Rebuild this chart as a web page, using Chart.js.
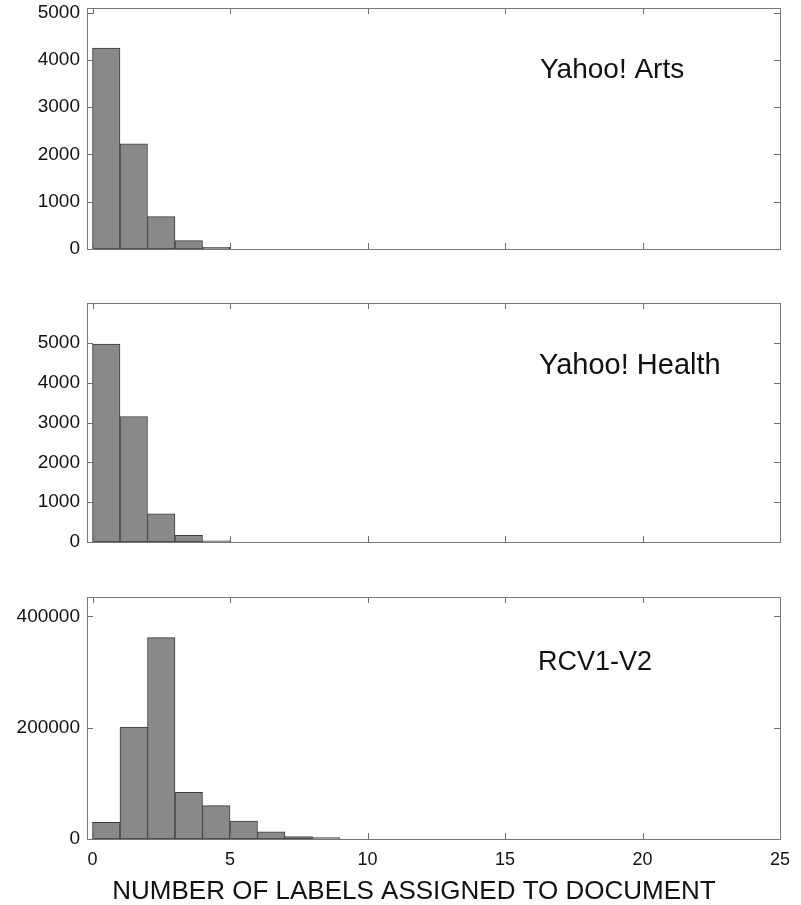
<!DOCTYPE html>
<html>
<head>
<meta charset="utf-8">
<script src="https://cdn.jsdelivr.net/npm/chart.js@4.4.1/dist/chart.umd.min.js"></script>
<style>
  html, body { margin: 0; padding: 0; background: #fff; }
  body { width: 801px; height: 905px; position: relative; overflow: hidden; }
  canvas { position: absolute; left: 0; }
</style>
</head>
<body>
<canvas id="c1" style="top:0px"></canvas>
<canvas id="c2" style="top:290px"></canvas>
<canvas id="c3" style="top:590px"></canvas>
<script>
// ---- data ----
const binEdges = [0, 1, 2, 3, 4, 5, 6, 7, 8];           // left edge of each 1-label-wide bin
const artsCounts = [4250, 2225, 684, 176, 35];
const healthCounts = [4970, 3150, 710, 168, 28];
const rcvCounts = [30000, 201000, 362000, 84000, 60000, 32000, 13000, 4500, 2500];
const xTicks = [0, 5, 10, 15, 20, 25];
const artsYTicks = [0, 1000, 2000, 3000, 4000, 5000];
const healthYTicks = [0, 1000, 2000, 3000, 4000, 5000];
const rcvYTicks = [0, 200000, 400000];
const panelNames = ['Yahoo! Arts', 'Yahoo! Health', 'RCV1-V2'];
const xTitle = 'NUMBER OF LABELS ASSIGNED TO DOCUMENT';

const FONT = "'Liberation Sans', Arial, sans-serif";

function toPoints(counts) {
  return counts.map((v, i) => ({ x: binEdges[i] + 0.5, y: v }));
}

const framePlugin = {
  id: 'frame',
  afterDatasetsDraw(chart, args, opts) {
    const { ctx, chartArea: a, scales } = chart;
    const tl = 6;
    ctx.save();
    ctx.strokeStyle = '#6e6e6e';
    ctx.lineWidth = 1;
    ctx.beginPath();
    scales.x.ticks.forEach(t => {
      const px = Math.round(scales.x.getPixelForValue(t.value)) + 0.5;
      ctx.moveTo(px, a.bottom); ctx.lineTo(px, a.bottom - tl);
      ctx.moveTo(px, a.top); ctx.lineTo(px, a.top + tl);
    });
    scales.y.ticks.forEach(t => {
      const py = Math.round(scales.y.getPixelForValue(t.value)) + 0.5;
      ctx.moveTo(a.left, py); ctx.lineTo(a.left + tl, py);
      ctx.moveTo(a.right, py); ctx.lineTo(a.right - tl, py);
    });
    ctx.stroke();
    ctx.strokeStyle = '#777';
    ctx.strokeRect(Math.round(a.left) + 0.5, Math.round(a.top) + 0.5,
                   Math.round(a.right - a.left), Math.round(a.bottom - a.top));
    // panel name
    ctx.fillStyle = '#111';
    ctx.font = opts.nameSize + 'px ' + FONT;
    ctx.textBaseline = 'alphabetic';
    ctx.textAlign = 'left';
    ctx.fillText(opts.name, a.left + opts.nameDx, a.top + opts.nameDy);
    if (opts.xTitle) {
      ctx.font = '26px ' + FONT;
      ctx.textAlign = 'center';
      ctx.fillText(opts.xTitle, opts.xTitleX, a.bottom + opts.xTitleDy);
    }
    ctx.restore();
  }
};

function makeChart(id, h, counts, yMax, yTicks, pad, showX, nameOpts) {
  const cv = document.getElementById(id);
  cv.width = 801; cv.height = h;
  cv.style.width = '801px'; cv.style.height = h + 'px';
  return new Chart(cv, {
    type: 'bar',
    data: {
      datasets: [{
        data: toPoints(counts),
        backgroundColor: '#898989',
        borderColor: '#3c3c3c',
        borderWidth: 1,
        borderSkipped: false,
        barPercentage: 1,
        categoryPercentage: 1
      }]
    },
    options: {
      responsive: false,
      animation: false,
      devicePixelRatio: 1,
      layout: { padding: pad },
      plugins: {
        legend: { display: false },
        tooltip: { enabled: false },
        frame: nameOpts
      },
      scales: {
        x: {
          type: 'linear',
          offset: false,
          min: -0.2,
          max: 25,
          grid: { display: false, drawTicks: false, offset: false },
          border: { display: false },
          ticks: {
            display: showX,
            padding: 10,
            color: '#111',
            font: { family: FONT, size: 18 },
            maxRotation: 0,
            callback: v => String(v)
          },
          afterBuildTicks: s => { s.ticks = xTicks.map(v => ({ value: v })); },
          afterFit: s => { s.height = showX ? 66 : 0; s.paddingLeft = 0; s.paddingRight = 0; }
        },
        y: {
          type: 'linear',
          min: 0,
          max: yMax,
          grid: { display: false, drawTicks: false },
          border: { display: false },
          ticks: {
            padding: 7,
            color: '#111',
            font: { family: FONT, size: 19 },
            callback: v => String(v)
          },
          afterBuildTicks: s => { s.ticks = yTicks.map(v => ({ value: v })); },
          afterFit: s => { s.width = 87; s.paddingTop = 0; s.paddingBottom = 0; }
        }
      }
    },
    plugins: [framePlugin]
  });
}

makeChart('c1', 265, artsCounts, 5100, artsYTicks,
  { top: 8, bottom: 16, left: 0, right: 21 }, false,
  { name: panelNames[0], nameSize: 28, nameDx: 453, nameDy: 70 });
makeChart('c2', 265, healthCounts, 6000, healthYTicks,
  { top: 13, bottom: 13, left: 0, right: 21 }, false,
  { name: panelNames[1], nameSize: 29, nameDx: 452, nameDy: 71 });
makeChart('c3', 315, rcvCounts, 435000, rcvYTicks,
  { top: 7, bottom: 0, left: 0, right: 21 }, true,
  { name: panelNames[2], nameSize: 27, nameDx: 451, nameDy: 73, xTitle: xTitle, xTitleX: 414, xTitleDy: 60 });
</script>
</body>
</html>
